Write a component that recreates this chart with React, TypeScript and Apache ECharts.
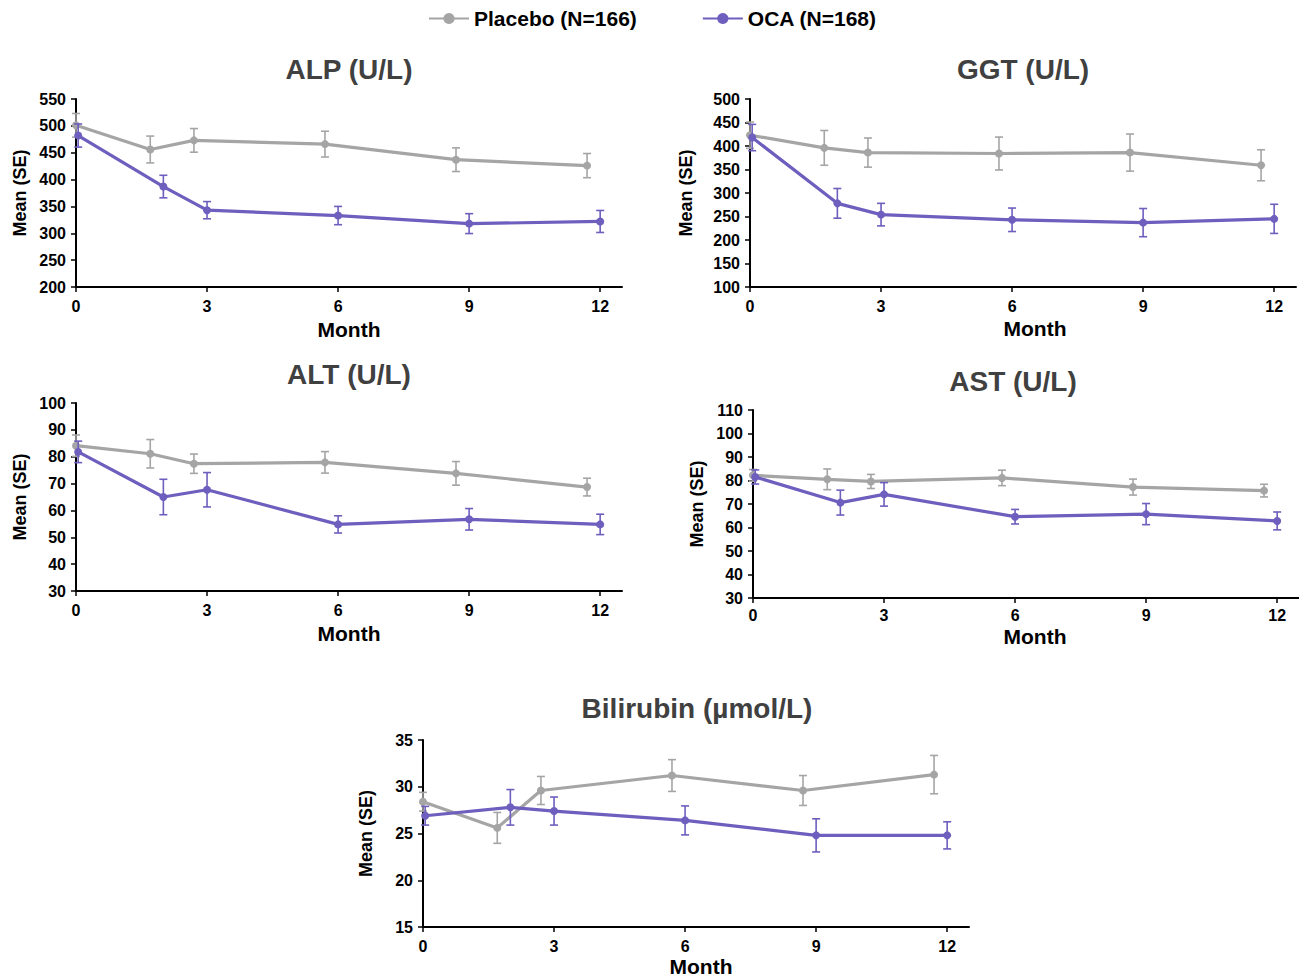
import React, { useEffect, useRef } from "react";
import * as echarts from "echarts";

const FONT = '"Liberation Sans", Arial, Helvetica, sans-serif';
const PLACEBO = "Placebo (N=166)";
const OCA = "OCA (N=168)";
const GREY = "#A5A5A5";
const PURPLE = "#6E5EBE";

const placeboMonths = [0, 1.7, 2.7, 5.7, 8.7, 11.7];
const ocaMonths = [0.05, 2, 3, 6, 9, 12];
const monthTicks = [0, 3, 6, 9, 12];

const alpPlacebo = [501, 456, 473, 466, 437, 426];
const alpPlaceboSE = [22, 25, 22, 24, 22, 22.5];
const alpOca = [482, 387, 343, 333, 318, 322];
const alpOcaSE = [21.5, 21, 16, 17, 18.5, 20.5];

const ggtPlacebo = [423, 396, 386, 384, 386, 359];
const ggtPlaceboSE = [28, 37, 31, 35, 39.5, 33];
const ggtOca = [418, 278, 254, 243, 237, 245];
const ggtOcaSE = [28, 31.6, 24, 25, 30, 31];

const altPlacebo = [84.1, 81.1, 77.4, 77.9, 73.8, 68.7];
const altPlaceboSE = [4, 5.3, 3.6, 4, 4.4, 3.3];
const altOca = [81.8, 65, 67.7, 54.8, 56.7, 54.8];
const altOcaSE = [4, 6.6, 6.4, 3.2, 4, 3.8];

const astPlacebo = [82.2, 80.5, 79.6, 81.1, 77.2, 75.7];
const astPlaceboSE = [2.5, 4.4, 3, 3.3, 3.4, 2.7];
const astOca = [81.5, 70.6, 74.1, 64.6, 65.7, 62.8];
const astOcaSE = [3, 5.3, 5, 3.1, 4.5, 3.8];

const biliPlacebo = [28.4, 25.6, 29.6, 31.2, 29.6, 31.3];
const biliPlaceboSE = [1, 1.65, 1.5, 1.7, 1.6, 2.05];
const biliOca = [26.9, 27.8, 27.4, 26.4, 24.8, 24.8];
const biliOcaSE = [1, 1.9, 1.5, 1.55, 1.77, 1.45];

const panels = [
  { title: "ALP (U/L)", left: 76, top: 99, h: 188, min: 200, max: 550, step: 50, titleX: 349, titleY: 69, monthX: 349, monthY: 329, meanX: 20, lm: 11,
    p: alpPlacebo, pse: alpPlaceboSE, o: alpOca, ose: alpOcaSE },
  { title: "GGT (U/L)", left: 750, top: 99, h: 188, min: 100, max: 500, step: 50, titleX: 1023, titleY: 69, monthX: 1035, monthY: 328, meanX: 686, lm: 11,
    p: ggtPlacebo, pse: ggtPlaceboSE, o: ggtOca, ose: ggtOcaSE },
  { title: "ALT (U/L)", left: 76, top: 403, h: 188, min: 30, max: 100, step: 10, titleX: 349, titleY: 374, monthX: 349, monthY: 633, meanX: 20, lm: 11,
    p: altPlacebo, pse: altPlaceboSE, o: altOca, ose: altOcaSE },
  { title: "AST (U/L)", left: 753, top: 410, h: 188, min: 30, max: 110, step: 10, titleX: 1013, titleY: 381, monthX: 1035, monthY: 636, meanX: 697, lm: 9,
    p: astPlacebo, pse: astPlaceboSE, o: astOca, ose: astOcaSE },
  { title: "Bilirubin (\u00b5mol/L)", left: 423, top: 740, h: 187, min: 15, max: 35, step: 5, titleX: 697, titleY: 708, monthX: 701, monthY: 966, meanX: 366, lm: 11,
    p: biliPlacebo, pse: biliPlaceboSE, o: biliOca, ose: biliOcaSE },
];

function errorBar(color: string) {
  return (params: any, api: any) => {
    const x = api.value(0);
    const lo = api.value(1);
    const hi = api.value(2);
    const a = api.coord([x, hi]);
    const b = api.coord([x, lo]);
    const w = 4;
    const st = { stroke: color, lineWidth: 1.6 };
    return {
      type: "group",
      children: [
        { type: "line", shape: { x1: a[0], y1: a[1], x2: b[0], y2: b[1] }, style: st },
        { type: "line", shape: { x1: a[0] - w, y1: a[1], x2: a[0] + w, y2: a[1] }, style: st },
        { type: "line", shape: { x1: b[0] - w, y1: b[1], x2: b[0] + w, y2: b[1] }, style: st },
      ],
    };
  };
}

function txt(text: string, x: number, y: number, size: number, color: string, rotation = 0) {
  return {
    type: "text",
    x,
    y,
    rotation,
    silent: true,
    style: {
      text,
      font: `bold ${size}px ${FONT}`,
      fill: color,
      align: "center",
      verticalAlign: "middle",
      textAlign: "center",
      textVerticalAlign: "middle",
    },
  };
}

export default function App() {
  const ref = useRef<HTMLDivElement>(null);
  useEffect(() => {
    if (!ref.current) return;
    const chart = echarts.init(ref.current, undefined, { renderer: "svg" });
    const grid: any[] = [];
    const xAxis: any[] = [];
    const yAxis: any[] = [];
    const series: any[] = [];
    const graphic: any[] = [];
    const axisLine = { show: true, lineStyle: { color: "#000", width: 2 } };
    panels.forEach((pn, i) => {
      grid.push({ left: pn.left, top: pn.top, width: 546, height: pn.h, containLabel: false });
      xAxis.push({
        type: "value",
        gridIndex: i,
        min: 0,
        max: 12.5,
        interval: 3,
        axisLine,
        axisTick: { show: true, length: 5, lineStyle: { color: "#000", width: 1.5 }, customValues: monthTicks },
        axisLabel: {
          color: "#000",
          fontWeight: "bold",
          fontSize: 16,
          fontFamily: FONT,
          margin: pn.lm,
          showMaxLabel: false,
          formatter: (v: number) => (monthTicks.indexOf(v) >= 0 ? String(v) : ""),
        },
        splitLine: { show: false },
      });
      yAxis.push({
        type: "value",
        gridIndex: i,
        min: pn.min,
        max: pn.max,
        interval: pn.step,
        axisLine,
        axisTick: { show: true, length: 5, lineStyle: { color: "#000", width: 1.5 } },
        axisLabel: { color: "#000", fontWeight: "bold", fontSize: 16, fontFamily: FONT, margin: 10 },
        splitLine: { show: false },
      });
      series.push({
        type: "custom",
        name: "Placebo SE",
        xAxisIndex: i,
        yAxisIndex: i,
        renderItem: errorBar(GREY),
        encode: { x: 0, y: [1, 2] },
        data: placeboMonths.map((m, j) => [m, pn.p[j] - pn.pse[j], pn.p[j] + pn.pse[j]]),
        z: 2,
      });
      series.push({
        type: "line",
        name: PLACEBO,
        xAxisIndex: i,
        yAxisIndex: i,
        data: placeboMonths.map((m, j) => [m, pn.p[j]]),
        symbol: "circle",
        symbolSize: 8,
        lineStyle: { color: GREY, width: 3.2 },
        itemStyle: { color: GREY },
        z: 3,
      });
      series.push({
        type: "custom",
        name: "OCA SE",
        xAxisIndex: i,
        yAxisIndex: i,
        renderItem: errorBar(PURPLE),
        encode: { x: 0, y: [1, 2] },
        data: ocaMonths.map((m, j) => [m, pn.o[j] - pn.ose[j], pn.o[j] + pn.ose[j]]),
        z: 4,
      });
      series.push({
        type: "line",
        name: OCA,
        xAxisIndex: i,
        yAxisIndex: i,
        data: ocaMonths.map((m, j) => [m, pn.o[j]]),
        symbol: "circle",
        symbolSize: 8,
        lineStyle: { color: PURPLE, width: 3.2 },
        itemStyle: { color: PURPLE },
        z: 5,
      });
      graphic.push(txt(pn.title, pn.titleX, pn.titleY, 28, "#404040"));
      graphic.push(txt("Month", pn.monthX, pn.monthY, 21, "#000"));
      graphic.push(txt("Mean (SE)", pn.meanX, pn.top + pn.h / 2, 18, "#000", Math.PI / 2));
    });
    chart.setOption({
      animation: false,
      backgroundColor: "#fff",
      legend: {
        data: [PLACEBO, OCA],
        left: 423,
        top: 3,
        itemWidth: 40,
        itemHeight: 14,
        itemGap: 65,
        textStyle: { color: "#000", fontWeight: "bold", fontSize: 21, fontFamily: FONT },
      },
      grid,
      xAxis,
      yAxis,
      series,
      graphic,
    });
    return () => chart.dispose();
  }, []);
  return (
    <div
      ref={ref}
      style={{ position: "fixed", left: 0, top: 0, width: 1299, height: 977, background: "#fff" }}
    />
  );
}
